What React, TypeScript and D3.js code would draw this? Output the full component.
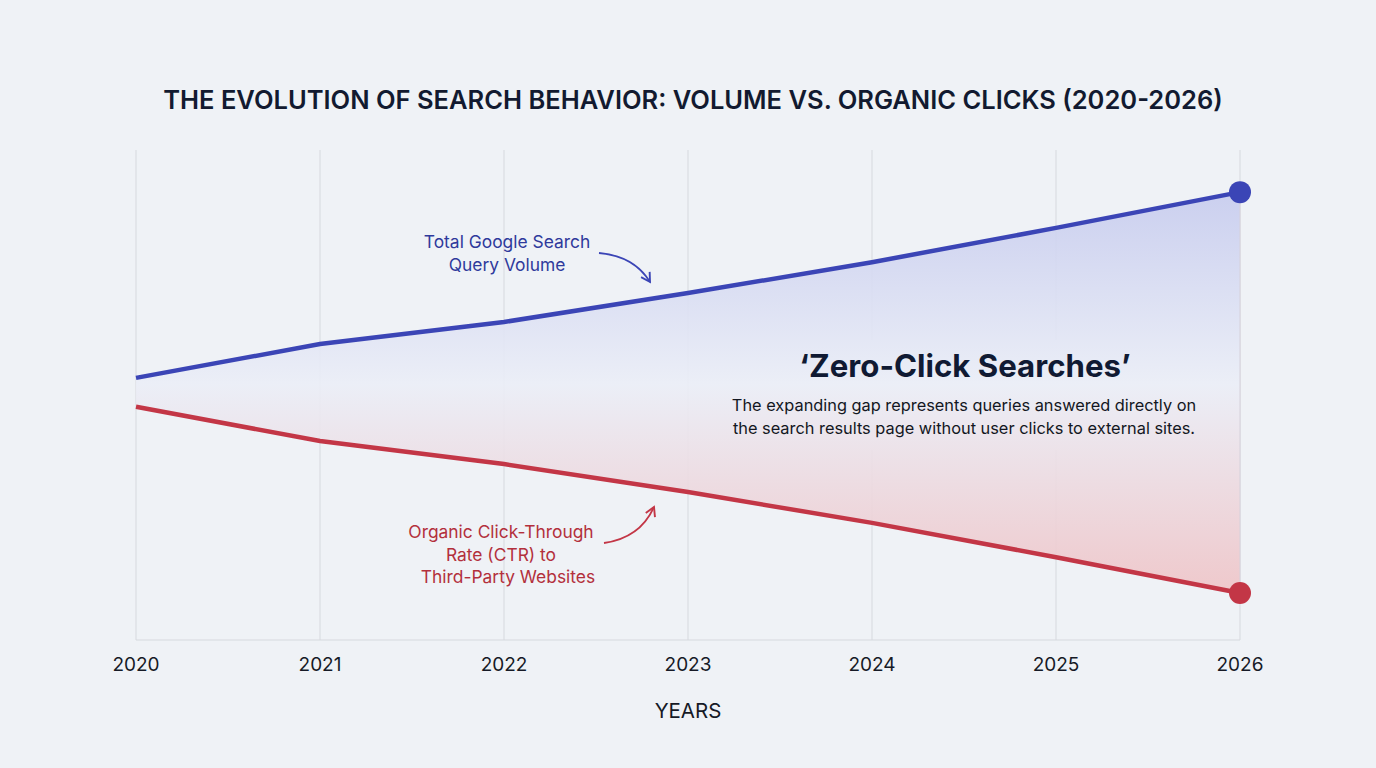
import React, { useRef, useEffect } from 'react'
import * as d3 from 'd3'

const years = ['2020', '2021', '2022', '2023', '2024', '2025', '2026']
// index values (0-100 scale)
const searchVolume = [53.5, 60.4, 64.9, 70.8, 77.1, 84.1, 91.4]
const organicCtr = [47.6, 40.6, 35.9, 30.2, 23.9, 16.9, 9.6]

const W = 1376
const H = 768
const BG = '#eff2f6'
const BLUE = '#3b45b6'
const RED = '#c33646'
const FONT = 'Inter, "Noto Sans", sans-serif'

const renderChart = (svg: SVGSVGElement) => {
  const svgD3 = d3.select(svg)
  svgD3.selectAll('*').remove()

  const x = d3.scalePoint<string>().domain(years).range([136, 1240])
  const y = d3.scaleLinear().domain([0, 100]).range([640, 150])

  const defs = svgD3.append('defs')
  const grad = defs
    .append('linearGradient')
    .attr('id', 'gapGrad')
    .attr('gradientUnits', 'userSpaceOnUse')
    .attr('x1', 0)
    .attr('x2', 0)
    .attr('y1', y(92))
    .attr('y2', y(9))
  grad.append('stop').attr('offset', '0%').attr('stop-color', '#c6cbee')
  grad.append('stop').attr('offset', '48%').attr('stop-color', '#ebeef7')
  grad.append('stop').attr('offset', '100%').attr('stop-color', '#efc3c6')

  const addArrow = (id: string, color: string) => {
    defs
      .append('marker')
      .attr('id', id)
      .attr('viewBox', '0 0 10 10')
      .attr('refX', 8)
      .attr('refY', 5)
      .attr('markerWidth', 7)
      .attr('markerHeight', 7)
      .attr('orient', 'auto')
      .append('path')
      .attr('d', 'M1,1 L8,5 L1,9')
      .attr('fill', 'none')
      .attr('stroke', color)
      .attr('stroke-width', 1.5)
  }
  addArrow('arrowBlue', BLUE)
  addArrow('arrowRed', RED)

  svgD3.append('rect').attr('width', W).attr('height', H).attr('fill', BG)

  // title
  svgD3
    .append('text')
    .attr('x', 693)
    .attr('y', 109)
    .attr('text-anchor', 'middle')
    .attr('font-family', FONT)
    .attr('font-size', 25.5)
    .attr('font-weight', 600)
    .attr('fill', '#121a30')
    .text('THE EVOLUTION OF SEARCH BEHAVIOR: VOLUME VS. ORGANIC CLICKS (2020-2026)')

  // gridlines
  svgD3
    .append('g')
    .selectAll('line')
    .data(years)
    .enter()
    .append('line')
    .attr('x1', (d) => x(d)!)
    .attr('x2', (d) => x(d)!)
    .attr('y1', y(100))
    .attr('y2', y(0))
    .attr('stroke', '#d6d9de')
    .attr('stroke-width', 1)

  svgD3
    .append('line')
    .attr('x1', x(years[0])!)
    .attr('x2', x(years[years.length - 1])!)
    .attr('y1', y(0))
    .attr('y2', y(0))
    .attr('stroke', '#d6d9de')
    .attr('stroke-width', 1)

  // gap area
  const area = d3
    .area<number>()
    .x((d, i) => x(years[i])!)
    .y0((d, i) => y(organicCtr[i]))
    .y1((d) => y(d))
  svgD3.append('path').datum(searchVolume).attr('d', area).attr('fill', 'url(#gapGrad)').attr('opacity', 0.9)

  // right edge of gap
  svgD3
    .append('line')
    .attr('x1', x('2026')!)
    .attr('x2', x('2026')!)
    .attr('y1', y(searchVolume[6]))
    .attr('y2', y(organicCtr[6]))
    .attr('stroke', '#d7d2dc')
    .attr('stroke-width', 1)

  // text box covering gridlines
  svgD3.append('rect').attr('x', 726).attr('y', 340).attr('width', 480).attr('height', 110).attr('fill', BG)
  svgD3.append('rect').attr('x', 726).attr('y', 340).attr('width', 480).attr('height', 110).attr('fill', 'url(#gapGrad)').attr('opacity', 0.9)

  const line = d3
    .line<number>()
    .x((d, i) => x(years[i])!)
    .y((d) => y(d))

  svgD3
    .append('path')
    .datum(searchVolume)
    .attr('d', line)
    .attr('fill', 'none')
    .attr('stroke', BLUE)
    .attr('stroke-width', 4.5)
  svgD3
    .append('path')
    .datum(organicCtr)
    .attr('d', line)
    .attr('fill', 'none')
    .attr('stroke', RED)
    .attr('stroke-width', 4.5)

  svgD3
    .append('circle')
    .attr('cx', x('2026')!)
    .attr('cy', y(searchVolume[6]))
    .attr('r', 11)
    .attr('fill', BLUE)
  svgD3
    .append('circle')
    .attr('cx', x('2026')!)
    .attr('cy', y(organicCtr[6]))
    .attr('r', 11)
    .attr('fill', RED)

  // x axis labels
  svgD3
    .append('g')
    .selectAll('text')
    .data(years)
    .enter()
    .append('text')
    .attr('x', (d) => x(d)!)
    .attr('y', 671)
    .attr('text-anchor', 'middle')
    .attr('font-family', FONT)
    .attr('font-size', 19)
    .attr('fill', '#161a26')
    .text((d) => d)

  svgD3
    .append('text')
    .attr('x', 688)
    .attr('y', 718)
    .attr('text-anchor', 'middle')
    .attr('font-family', FONT)
    .attr('font-size', 20.5)
    .attr('fill', '#161a26')
    .text('YEARS')

  // annotations
  const blueNote = svgD3
    .append('text')
    .attr('text-anchor', 'middle')
    .attr('font-family', FONT)
    .attr('font-size', 17.4)
    .attr('fill', '#2f3a9c')
  blueNote.append('tspan').attr('x', 507).attr('y', 248).text('Total Google Search')
  blueNote.append('tspan').attr('x', 507).attr('y', 271).text('Query Volume')

  svgD3
    .append('path')
    .attr('d', 'M599,253 Q634,256 650,282')
    .attr('fill', 'none')
    .attr('stroke', BLUE)
    .attr('stroke-width', 1.8)
    .attr('marker-end', 'url(#arrowBlue)')

  const redNote = svgD3
    .append('text')
    .attr('text-anchor', 'middle')
    .attr('font-family', FONT)
    .attr('font-size', 17.4)
    .attr('fill', '#b3303c')
  redNote.append('tspan').attr('x', 501).attr('y', 538).text('Organic Click-Through')
  redNote.append('tspan').attr('x', 501).attr('y', 561).text('Rate (CTR) to')
  redNote.append('tspan').attr('x', 508).attr('y', 583).text('Third-Party Websites')

  svgD3
    .append('path')
    .attr('d', 'M604,543 Q640,538 654,507')
    .attr('fill', 'none')
    .attr('stroke', RED)
    .attr('stroke-width', 1.8)
    .attr('marker-end', 'url(#arrowRed)')

  // zero-click callout
  svgD3
    .append('text')
    .attr('x', 965)
    .attr('y', 377)
    .attr('text-anchor', 'middle')
    .attr('font-family', FONT)
    .attr('font-size', 31.2)
    .attr('font-weight', 700)
    .attr('fill', '#101a33')
    .text('\u2018Zero-Click Searches\u2019')

  const sub = svgD3
    .append('text')
    .attr('text-anchor', 'middle')
    .attr('font-family', FONT)
    .attr('font-size', 16.35)
    .attr('fill', '#131722')
  sub.append('tspan').attr('x', 964).attr('y', 411).text('The expanding gap represents queries answered directly on')
  sub.append('tspan').attr('x', 964).attr('y', 434).text('the search results page without user clicks to external sites.')
}

export default function App() {
  const ref = useRef<SVGSVGElement>(null)
  useEffect(() => {
    if (ref.current) renderChart(ref.current)
  }, [])
  return (
    <div style={{ position: 'absolute', left: 0, top: 0, width: W, height: H, background: BG }}>
      <svg ref={ref} width={W} height={H} style={{ display: 'block' }} />
    </div>
  )
}
